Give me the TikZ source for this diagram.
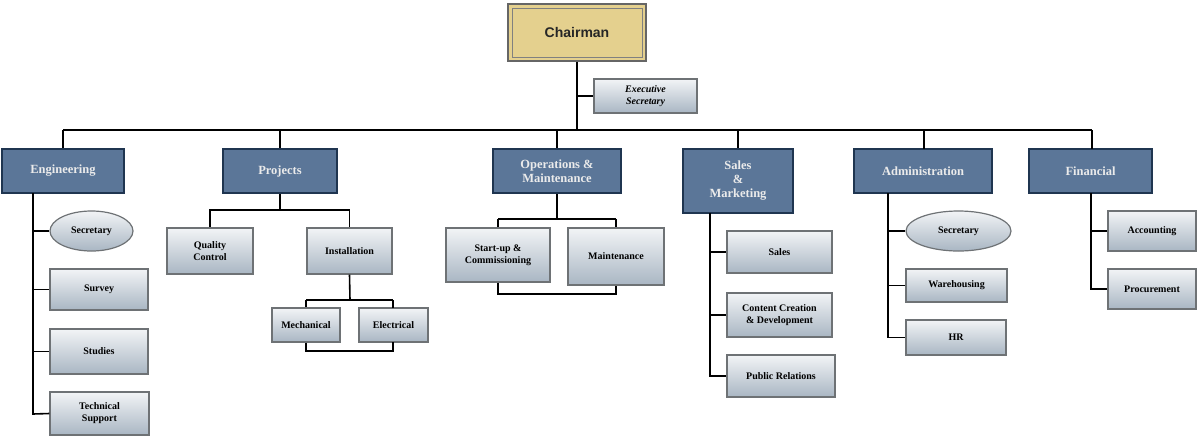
\documentclass[tikz,border=0pt]{standalone}
\usepackage{fontspec}
\setmainfont{Liberation Serif}
\newfontfamily\chsans{Liberation Sans}
\usetikzlibrary{shapes.geometric}
\definecolor{deptfill}{HTML}{5B7698}
\definecolor{deptdraw}{HTML}{1F3550}
\definecolor{childtop}{HTML}{F2F4F6}
\definecolor{childbot}{HTML}{A9B6C3}
\definecolor{childdraw}{HTML}{6E7275}
\definecolor{gold}{HTML}{E4D08E}
\begin{document}
\begin{tikzpicture}[x=1pt,y=-1pt,
  dept/.style={draw=deptdraw,line width=2pt,fill=deptfill,text=white!92!black,
    font=\fontsize{12.5}{14}\selectfont\bfseries,align=center,inner sep=0pt},
  child/.style={draw=childdraw,line width=1.2pt,top color=childtop,bottom color=childbot,
    font=\fontsize{10}{12}\selectfont\bfseries,align=center,inner sep=0pt},
  oval/.style={child,ellipse},
  ln/.style={line width=1.6pt,black}]
\useasboundingbox (0,0) rectangle (1200,440);
% chairman
\node[draw=black!60,line width=1.2pt,fill=gold,minimum width=138pt,minimum height=57pt,inner sep=0pt,
  font=\chsans\fontsize{14}{16}\selectfont\bfseries,text=black!85] (ch) at (577,32.5) {Chairman};
\draw[line width=1pt,black!50] (512,8) rectangle (642,57);
\node[child,minimum width=103pt,minimum height=34pt,font=\fontsize{10}{12}\selectfont\bfseries\itshape] (ex) at (645.5,96) {Executive\\Secretary};
% departments
\node[dept,minimum width=122pt,minimum height=44pt] (eng) at (63,171) {Engineering};
\node[dept,minimum width=114pt,minimum height=44pt] (pro) at (280,171) {Projects};
\node[dept,minimum width=128pt,minimum height=44pt] (ops) at (557,171) {Operations \&\\Maintenance};
\node[dept,minimum width=110pt,minimum height=64pt] (sal) at (738,181) {Sales\\\&\\Marketing};
\node[dept,minimum width=138pt,minimum height=44pt] (adm) at (923,171) {Administration};
\node[dept,minimum width=123pt,minimum height=44pt] (fin) at (1090.5,171) {Financial};
\coordinate (busL) at (63,130);
\coordinate (busR) at (1092,130);
\coordinate (busC) at (577,130);
\draw[ln] (ch.south) -- (busC);
\draw[ln] (577,96) -- (ex.west);
\draw[ln] (busL) -- (busR);
\draw[ln] (busL) -- (eng.north);
\draw[ln] (280,130) -- (pro.north);
\draw[ln] (557,130) -- (ops.north);
\draw[ln] (738,130) -- (sal.north);
\draw[ln] (924,130) -- (924,149);
\draw[ln] (busR) -- (1092,149);
% engineering
\node[oval,minimum width=83pt,minimum height=40pt] (es) at (91.5,231) {Secretary};
\node[child,minimum width=98pt,minimum height=41pt] (sv) at (99,289.5) {Survey};
\node[child,minimum width=98pt,minimum height=45pt] (st) at (99,351.5) {Studies};
\node[child,minimum width=99pt,minimum height=43pt] (ts) at (99.5,413.5) {Technical\\Support};
\draw[ln] (33,193) -- (33,414) -- (ts.west);
\draw[ln] (33,231) -- (es.west);
\draw[ln] (33,289.5) -- (sv.west);
\draw[ln] (33,351.5) -- (st.west);
% projects
\node[child,minimum width=86pt,minimum height=46pt] (qc) at (210,251) {Quality\\Control};
\node[child,minimum width=85pt,minimum height=46pt] (in) at (349.5,251) {Installation};
\node[child,minimum width=68pt,minimum height=34pt] (me) at (306,325) {Mechanical};
\node[child,minimum width=69pt,minimum height=34pt] (el) at (393.5,325) {Electrical};
\draw[ln] (pro.south) -- (280,210) -| (qc.north);
\draw[ln] (280,210) -| (in.north);
\draw[ln] (in.south) -- (350,300);
\draw[ln] (306,300) -- (393,300);
\draw[ln] (306,300) -- (me.north);
\draw[ln] (393,300) -- (393,308);
\draw[ln] (me.south) -- (306,351) -- (393,351) -- (393,342);
% ops
\node[child,minimum width=104pt,minimum height=54pt] (su) at (498,255) {Start-up \&\\Commissioning};
\node[child,minimum width=96pt,minimum height=57pt] (mt) at (616,256.5) {Maintenance};
\draw[ln] (ops.south) -- (557,219);
\draw[ln] (498,219) -- (616,219);
\draw[ln] (498,219) -- (su.north);
\draw[ln] (616,219) -- (mt.north);
\draw[ln] (su.south) -- (498,294) -- (616,294) -- (mt.south);
% sales
\node[child,minimum width=105pt,minimum height=42pt] (sa) at (779.5,252) {Sales};
\node[child,minimum width=105pt,minimum height=44pt] (cc) at (779.5,315) {Content Creation\\\& Development};
\node[child,minimum width=108pt,minimum height=42pt] (pr) at (781,376) {Public Relations};
\draw[ln] (710,213) -- (710,376) -- (pr.west);
\draw[ln] (710,252) -- (sa.west);
\draw[ln] (710,315) -- (cc.west);
% admin
\node[oval,minimum width=105pt,minimum height=40pt] (as) at (958.5,231) {Secretary};
\node[child,minimum width=101pt,minimum height=33pt] (wh) at (956.5,285.5) {Warehousing};
\node[child,minimum width=100pt,minimum height=35pt] (hr) at (956,337.5) {HR};
\draw[ln] (888,193) -- (888,337.5) -- (hr.west);
\draw[ln] (888,231) -- (as.west);
\draw[ln] (888,285.5) -- (wh.west);
% financial
\node[child,minimum width=88pt,minimum height=40pt] (ac) at (1152,231) {Accounting};
\node[child,minimum width=88pt,minimum height=40pt] (pc) at (1152,289) {Procurement};
\draw[ln] (1091,193) -- (1091,289) -- (pc.west);
\draw[ln] (1091,231) -- (ac.west);
\end{tikzpicture}
\end{document}
